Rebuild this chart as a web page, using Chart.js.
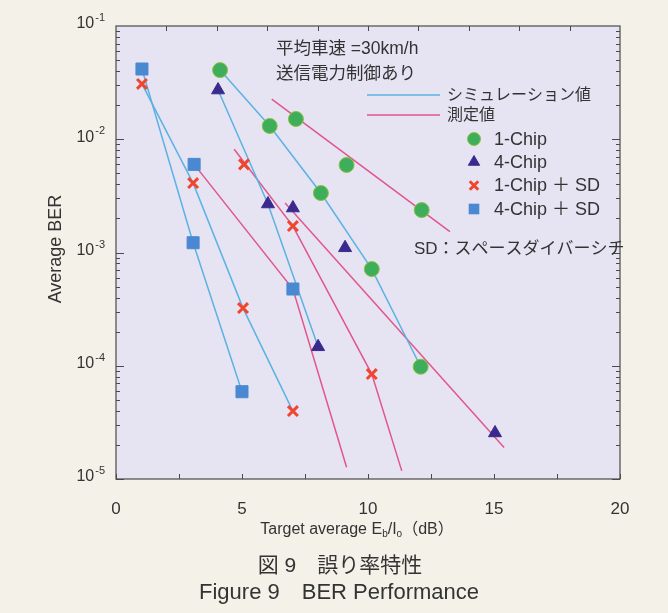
<!DOCTYPE html>
<html>
<head>
<meta charset="utf-8">
<script src="https://cdn.jsdelivr.net/npm/chart.js@4.4.0/dist/chart.umd.min.js"></script>
<style>
  html, body { margin: 0; padding: 0; background: #f3f1e8; }
</style>
</head>
<body>
<canvas id="berChart" width="668" height="613"></canvas>
<script>
// markers (Target average Eb/Io in dB, average BER)
const chip1X = [4.13, 6.1, 7.14, 8.13, 9.15, 10.15, 12.13, 12.09];
const chip1Y = [0.0408, 0.0131, 0.0151, 0.00335, 0.00593, 0.000714, 0.00237, 0.000098];
const chip4X = [4.05, 6.03, 7.02, 8.02, 9.09, 15.04];
const chip4Y = [0.0272, 0.00268, 0.00247, 0.000147, 0.0011, 0.0000255];
const chip1sdX = [1.03, 3.06, 5.08, 5.04, 7.02, 7.02, 10.15];
const chip1sdY = [0.0308, 0.0041, 0.006, 0.000323, 0.00171, 0.0000398, 0.0000845];
const chip4sdX = [1.03, 3.1, 3.06, 7.02, 5.0];
const chip4sdY = [0.0417, 0.006, 0.00122, 0.000476, 0.000059];

// simulation curves
const sim1ChipX = [4.13, 6.1, 8.13, 10.15, 12.09];
const sim1ChipY = [0.0408, 0.0131, 0.00335, 0.000714, 0.000098];
const sim4ChipX = [4.05, 6.03, 8.02];
const sim4ChipY = [0.0272, 0.00268, 0.000147];
const sim1ChipSdX = [1.03, 3.06, 5.04, 7.02];
const sim1ChipSdY = [0.0308, 0.0041, 0.000323, 0.0000398];
const sim4ChipSdX = [1.03, 3.06, 5.0];
const sim4ChipSdY = [0.0417, 0.00122, 0.000059];

// measured curves
const meas1ChipX = [6.18, 13.25];
const meas1ChipY = [0.0226, 0.00153];
const meas4ChipX = [6.71, 15.4];
const meas4ChipY = [0.00274, 0.000019];
const meas1ChipSdX = [4.69, 7.02, 10.15, 11.34];
const meas1ChipSdY = [0.00815, 0.00171, 0.0000845, 0.0000118];
const meas4ChipSdX = [3.1, 7.02, 9.15];
const meas4ChipSdY = [0.006, 0.000476, 0.0000127];

// axis ticks
const xLabelValues = [0, 5, 10, 15, 20];
const xTopTicks = [2, 4, 6, 8, 10, 12, 14, 16, 18];
const yDecades = [1e-5, 1e-4, 1e-3, 1e-2, 1e-1];
const yExpLabels = ['-5', '-4', '-3', '-2', '-1'];

const PAGE_BG = '#f3f1e8';
const PLOT_BG = '#e6e3f2';
const SIM_BLUE = '#5ab3e3';
const MEAS_PINK = '#e2568d';
const TEXT = '#333333';
const FONT = "'Liberation Sans', 'Noto Sans CJK JP', sans-serif";

const pts = (xs, ys) => xs.map((x, i) => ({ x: x, y: ys[i] }));

const markerStyles = [
  { label: '1-Chip', style: 'circle', radius: 7.5, fill: '#3fae5a', stroke: '#8cc247', width: 1 },
  { label: '4-Chip', style: 'triangle', radius: 7.5, fill: '#3b2a8e', stroke: '#3b2a8e', width: 1 },
  { label: '1-Chip ＋ SD', style: 'crossRot', radius: 7, fill: '#f0452e', stroke: '#f0452e', width: 3 },
  { label: '4-Chip ＋ SD', style: 'rect', radius: 8.5, fill: '#4a89d1', stroke: '#4a89d1', width: 1 }
];
const markerData = [pts(chip1X, chip1Y), pts(chip4X, chip4Y), pts(chip1sdX, chip1sdY), pts(chip4sdX, chip4sdY)];

const markerSets = markerStyles.map((m, i) => ({
  label: m.label,
  data: markerData[i],
  showLine: false,
  pointStyle: m.style,
  pointRadius: m.radius,
  pointBackgroundColor: m.fill,
  pointBorderColor: m.stroke,
  pointBorderWidth: m.width,
  order: 0
}));

function curve(label, data, color) {
  return { label: label, data: data, showLine: true, borderColor: color, borderWidth: 1.5,
           pointRadius: 0, tension: 0, order: 1 };
}

const lineSets = [
  curve('sim 1-Chip', pts(sim1ChipX, sim1ChipY), SIM_BLUE),
  curve('sim 4-Chip', pts(sim4ChipX, sim4ChipY), SIM_BLUE),
  curve('sim 1-Chip+SD', pts(sim1ChipSdX, sim1ChipSdY), SIM_BLUE),
  curve('sim 4-Chip+SD', pts(sim4ChipSdX, sim4ChipSdY), SIM_BLUE),
  curve('meas 1-Chip', pts(meas1ChipX, meas1ChipY), MEAS_PINK),
  curve('meas 4-Chip', pts(meas4ChipX, meas4ChipY), MEAS_PINK),
  curve('meas 1-Chip+SD', pts(meas1ChipSdX, meas1ChipSdY), MEAS_PINK),
  curve('meas 4-Chip+SD', pts(meas4ChipSdX, meas4ChipSdY), MEAS_PINK)
];

function drawMarker(ctx, m, x, y, r) {
  ctx.save();
  ctx.fillStyle = m.fill;
  ctx.strokeStyle = m.stroke;
  ctx.lineWidth = m.width;
  ctx.beginPath();
  if (m.style === 'circle') {
    ctx.arc(x, y, r, 0, Math.PI * 2);
    ctx.fill(); ctx.stroke();
  } else if (m.style === 'triangle') {
    ctx.moveTo(x, y - r);
    ctx.lineTo(x + r * 0.866, y + r * 0.5);
    ctx.lineTo(x - r * 0.866, y + r * 0.5);
    ctx.closePath();
    ctx.fill(); ctx.stroke();
  } else if (m.style === 'crossRot') {
    const d = r * 0.707;
    ctx.moveTo(x - d, y - d); ctx.lineTo(x + d, y + d);
    ctx.moveTo(x + d, y - d); ctx.lineTo(x - d, y + d);
    ctx.stroke();
  } else {
    const s = r * 0.707;
    ctx.rect(x - s, y - s, 2 * s, 2 * s);
    ctx.fill();
  }
  ctx.restore();
}

function text(ctx, str, x, y, size, align) {
  ctx.font = size + 'px ' + FONT;
  ctx.textAlign = align || 'left';
  ctx.textBaseline = 'middle';
  ctx.fillText(str, x, y);
}

const paperPlugin = {
  id: 'paper',
  beforeDraw(chart) {
    const { ctx, chartArea: a } = chart;
    ctx.save();
    ctx.fillStyle = PAGE_BG;
    ctx.fillRect(0, 0, chart.width, chart.height);
    ctx.fillStyle = PLOT_BG;
    ctx.fillRect(a.left, a.top, a.right - a.left, a.bottom - a.top);
    ctx.restore();
  },
  afterDraw(chart) {
    const { ctx, chartArea: a } = chart;
    const xs = chart.scales.x, ys = chart.scales.y;
    ctx.save();

    // frame and inward ticks
    ctx.strokeStyle = '#4a4a4a';
    ctx.lineWidth = 1.2;
    ctx.strokeRect(a.left, a.top, a.right - a.left, a.bottom - a.top);
    ctx.lineWidth = 1;
    ctx.beginPath();
    for (let e = -5; e <= -2; e++) {
      for (let m = 1; m <= 9; m++) {
        const py = Math.round(ys.getPixelForValue(m * Math.pow(10, e))) + 0.5;
        const len = m === 1 ? 8 : 4;
        ctx.moveTo(a.left, py); ctx.lineTo(a.left + len, py);
        ctx.moveTo(a.right, py); ctx.lineTo(a.right - len, py);
      }
    }
    xs.ticks.forEach(t => {
      const px = Math.round(xs.getPixelForValue(t.value)) + 0.5;
      ctx.moveTo(px, a.bottom); ctx.lineTo(px, a.bottom - 5);
    });
    xTopTicks.forEach(v => {
      const px = Math.round(xs.getPixelForValue(v)) + 0.5;
      ctx.moveTo(px, a.top); ctx.lineTo(px, a.top + 5);
    });
    ctx.stroke();

    ctx.fillStyle = TEXT;

    // y tick labels 10^n
    yDecades.forEach((v, i) => {
      const py = ys.getPixelForValue(v);
      ctx.font = '11px ' + FONT;
      const supW = ctx.measureText(yExpLabels[i]).width;
      const right = 105;
      text(ctx, '10', right - supW - 1, py - 2, 16, 'right');
      text(ctx, yExpLabels[i], right - supW, py - 8, 11, 'left');
    });

    // y title
    ctx.save();
    ctx.translate(56, 249);
    ctx.rotate(-Math.PI / 2);
    text(ctx, 'Average BER', 0, 0, 18, 'center');
    ctx.restore();

    // x title with subscripts
    const parts = [['Target average E', 16, 0], ['b', 10, 3], ['/I', 16, 0], ['o', 10, 3], ['（dB）', 16, 0]];
    let total = 0;
    parts.forEach(p => { ctx.font = p[1] + 'px ' + FONT; total += ctx.measureText(p[0]).width; });
    let cx = 357 - total / 2;
    ctx.textAlign = 'left';
    ctx.textBaseline = 'alphabetic';
    parts.forEach(p => {
      ctx.font = p[1] + 'px ' + FONT;
      ctx.fillText(p[0], cx, 534 + p[2]);
      cx += ctx.measureText(p[0]).width;
    });

    // captions
    text(ctx, '図 9　誤り率特性', 340, 566, 21, 'center');
    text(ctx, 'Figure 9　BER Performance', 339, 593, 22, 'center');

    // conditions
    text(ctx, '平均車速 =30km/h', 276, 49, 17.5);
    text(ctx, '送信電力制御あり', 276, 74, 17.5);

    // line legend
    ctx.lineWidth = 1.5;
    [[SIM_BLUE, 95, 'シミュレーション値'], [MEAS_PINK, 115, '測定値']].forEach(l => {
      ctx.strokeStyle = l[0];
      ctx.beginPath();
      ctx.moveTo(367, l[1]); ctx.lineTo(440, l[1]);
      ctx.stroke();
      ctx.fillStyle = TEXT;
      text(ctx, l[2], 447, l[1] + 1, 16);
    });

    // marker legend
    const rows = [139, 162, 185.5, 209];
    markerStyles.forEach((m, i) => {
      const r = m.style === 'rect' ? 7.5 : m.style === 'crossRot' ? 6 : 6.5;
      drawMarker(ctx, m, 474, rows[i], r);
      ctx.fillStyle = TEXT;
      text(ctx, m.label, 494, rows[i] + 1, 18);
    });

    text(ctx, 'SD：スペースダイバーシチ', 414, 249, 17);
    ctx.restore();
  }
};

new Chart(document.getElementById('berChart'), {
  type: 'scatter',
  data: { datasets: markerSets.concat(lineSets) },
  options: {
    responsive: false,
    animation: false,
    layout: { padding: { top: 26, right: 48, left: 0, bottom: 0 } },
    scales: {
      x: {
        type: 'linear',
        min: 0,
        max: 20,
        grid: { display: false, drawTicks: false },
        border: { display: false },
        ticks: {
          stepSize: 2.5,
          autoSkip: false,
          maxRotation: 0,
          padding: 20,
          color: TEXT,
          font: { size: 17, family: FONT },
          callback: v => (xLabelValues.includes(v) ? String(v) : '')
        },
        afterFit: s => { s.height = 134; }
      },
      y: {
        type: 'logarithmic',
        min: 1e-5,
        max: 1e-1,
        grid: { display: false, drawTicks: false },
        border: { display: false },
        ticks: { display: false },
        afterFit: s => { s.width = 116; }
      }
    },
    plugins: {
      legend: { display: false },
      tooltip: { enabled: false }
    }
  },
  plugins: [paperPlugin]
});
</script>
</body>
</html>
